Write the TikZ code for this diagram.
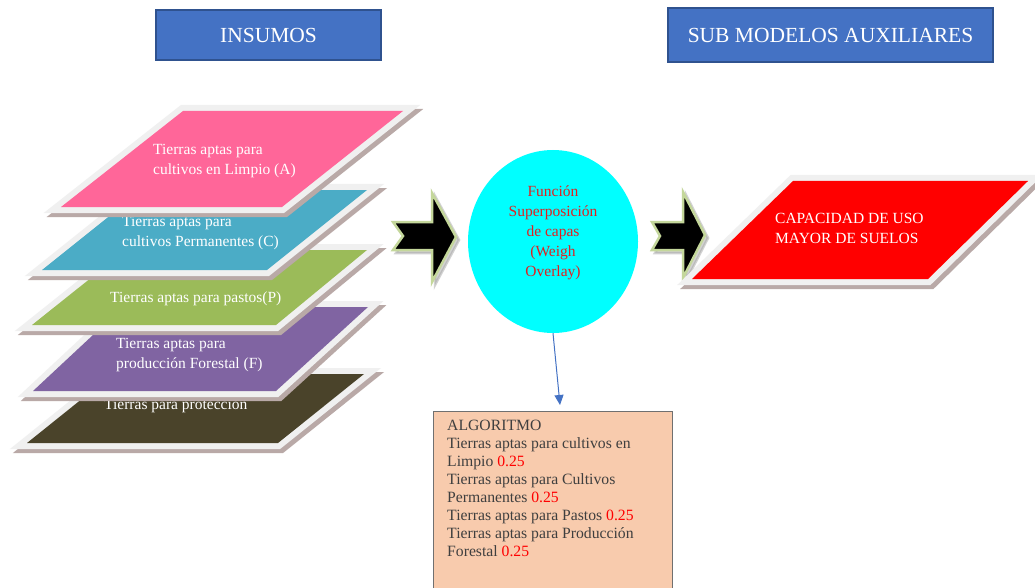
\documentclass[tikz,border=0pt]{standalone}
\usepackage{fontspec}
\setmainfont{Liberation Serif}
\usetikzlibrary{shapes.geometric,arrows.meta}
\definecolor{hdrblue}{HTML}{4472C4}
\definecolor{hdrborder}{HTML}{2F528F}
\definecolor{pinkL}{HTML}{FF6699}
\definecolor{tealL}{HTML}{4BACC6}
\definecolor{greenL}{HTML}{9BBB59}
\definecolor{purpleL}{HTML}{8064A2}
\definecolor{darkL}{HTML}{4A432A}
\definecolor{framegray}{HTML}{F0F0F0}
\definecolor{shadowcol}{HTML}{B9A9A7}
\definecolor{arrowgreen}{HTML}{C4D79B}
\definecolor{funcred}{HTML}{E02020}
\definecolor{aquafill}{RGB}{0,255,255}
\definecolor{redfill}{RGB}{255,0,0}
\definecolor{peach}{HTML}{F8CBAD}
\definecolor{algoborder}{HTML}{707070}
\definecolor{algotext}{HTML}{3F3F3F}
\definecolor{linkblue}{HTML}{4472C4}
\newcommand\drawlayer[5]{%
  \begin{scope}[shift={(3,4)}]
    \filldraw[layshadow] (#2)--(#3)--(#4)--(#5)--cycle;
  \end{scope}
  \filldraw[layframe] (#2)--(#3)--(#4)--(#5)--cycle;
  \fill[#1] (#2)--(#3)--(#4)--(#5)--cycle;}
\begin{document}
\begin{tikzpicture}[x=1pt,y=-1pt,
  hdr/.style={draw=hdrborder,line width=1.5pt,fill=hdrblue,text=white,
    font=\fontsize{21.5}{24}\selectfont,inner sep=0pt},
  layshadow/.style={draw=shadowcol,fill=shadowcol,line width=12pt,line join=miter},
  layframe/.style={draw=framegray,fill=framegray,line width=12pt,line join=miter},
  laytext/.style={text=white,anchor=west,align=left,inner sep=0pt,
    font=\fontsize{15.5}{20}\selectfont},
  blockarrow/.style={fill=black,draw=arrowgreen,line width=2.5pt,line join=miter},
  arrowshadow/.style={fill=black!35,draw=black!35,line width=2.5pt,line join=miter,opacity=.5}]
\useasboundingbox (0,0) rectangle (1035,588);
\fill[white] (0,0) rectangle (1035,588);
% headers
\node[hdr,minimum width=225,minimum height=50] (insumos) at (268.5,35) {INSUMOS};
\node[hdr,minimum width=325,minimum height=54] (submod) at (830.5,35) {SUB MODELOS AUXILIARES};
% layers, bottom to top
\drawlayer{darkL}{113,374}{364,374}{278,443}{27,443}
\node[laytext] (tprot) at (104,406) {Tierras para protección};
\drawlayer{purpleL}{123,307}{368,307}{276,391}{33,391}
\node[laytext] (tfor) at (116,355) {Tierras aptas para\\producción Forestal (F)};
\drawlayer{greenL}{126,250}{367,250}{276,325}{32,325}
\node[laytext] (tpas) at (110,299) {Tierras aptas para pastos(P)};
\drawlayer{tealL}{142,190}{367,190}{267,270}{42,270}
\node[laytext] (tper) at (122,233) {Tierras aptas para\\cultivos Permanentes (C)};
\drawlayer{pinkL}{183,111}{403,111}{282,207}{61,207}
\node[laytext] (tlim) at (153,161) {Tierras aptas para\\cultivos en Limpio (A)};
% block arrows
\begin{scope}[shift={(3,3)}]
\filldraw[arrowshadow] (393,222)--(432,222)--(432,193)--(456,237)--(432,282)--(432,250)--(393,250)--(403,236)--cycle;
\filldraw[arrowshadow] (652,222)--(683,222)--(683,192)--(705,235)--(683,278)--(683,250)--(652,250)--(660,236)--cycle;
\end{scope}
\filldraw[blockarrow] (393,222)--(432,222)--(432,193)--(456,237)--(432,282)--(432,250)--(393,250)--(403,236)--cycle;
\filldraw[blockarrow] (652,222)--(683,222)--(683,192)--(705,235)--(683,278)--(683,250)--(652,250)--(660,236)--cycle;
% function ellipse
\node[ellipse,fill=aquafill,minimum width=170,minimum height=183,inner sep=0pt] (func) at (553,241.5) {};
\node[align=center,text=funcred,inner sep=0pt,font=\fontsize{15.5}{20}\selectfont] (functxt) at (553,233)
  {Función\\Superposición\\de capas\\(Weigh\\Overlay)};
% result parallelogram
\drawlayer{redfill}{793,181}{1028,181}{928,279}{692,279}
\node[laytext] (tcap) at (775,228) {CAPACIDAD DE USO\\MAYOR DE SUELOS};
% algorithm box
\node[draw=algoborder,line width=1pt,fill=peach,anchor=north west,minimum width=239,minimum height=182,inner sep=0pt] (algo) at (433,411) {};
\node[anchor=north west,align=left,inner sep=0pt,text=algotext,font=\fontsize{15.7}{18}\selectfont] (algotxt) at (447,420)
  {ALGORITMO\\
   Tierras aptas para cultivos en\\
   Limpio \textcolor{redfill}{0.25}\\
   Tierras aptas para Cultivos\\
   Permanentes \textcolor{redfill}{0.25}\\
   Tierras aptas para Pastos \textcolor{redfill}{0.25}\\
   Tierras aptas para Producción\\
   Forestal \textcolor{redfill}{0.25}};
\coordinate (algotop) at (560,405);
\draw[linkblue,line width=1pt,-{Triangle[width=9pt,length=10pt]}] (func.south) -- (algotop);
\end{tikzpicture}
\end{document}
